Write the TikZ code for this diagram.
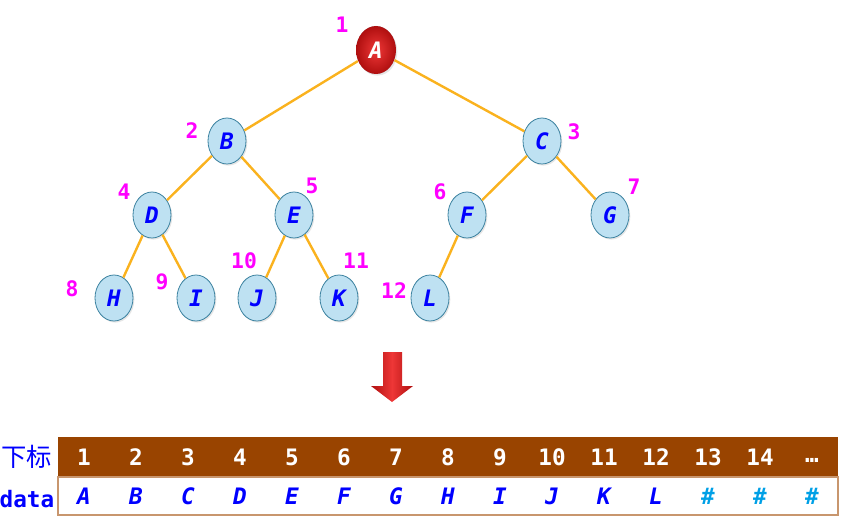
\documentclass[tikz,border=0pt]{standalone}
\usepackage{fontspec}
\setmonofont{DejaVu Sans Mono}
\newfontfamily\cjk{Noto Sans CJK SC}
\usetikzlibrary{shapes.geometric,shadows}
\definecolor{edgeorange}{RGB}{250,178,30}
\definecolor{nodeblue}{RGB}{190,225,242}
\definecolor{nodeline}{RGB}{60,130,160}
\definecolor{labmag}{RGB}{255,0,255}
\definecolor{letblue}{RGB}{0,0,255}
\definecolor{hashblue}{RGB}{0,160,230}
\definecolor{tabbrown}{RGB}{153,68,0}
\definecolor{tabline}{RGB}{200,150,110}
\definecolor{rootin}{RGB}{238,55,55}
\definecolor{rootout}{RGB}{175,15,15}

\begin{document}
\begin{tikzpicture}[
  x=0.75pt, y=-0.75pt,
  tnode/.style={ellipse, draw=nodeline, line width=0.6pt, fill=nodeblue,
               minimum width=28.5pt, minimum height=34.5pt, inner sep=0pt, text=letblue,
               font=\fontsize{17}{17}\selectfont\ttfamily\bfseries\itshape,
               drop shadow={opacity=0.2, shadow xshift=1pt, shadow yshift=-1.2pt}},
  rootnode/.style={tnode, draw=none, minimum width=30pt, minimum height=36pt,
               inner color=rootin, outer color=rootout, text=white},
  idx/.style={text=labmag, font=\fontsize{16}{16}\selectfont\ttfamily\bfseries},
  edge/.style={draw=edgeorange, line width=1.8pt},
  cell/.style={font=\fontsize{17}{17}\selectfont\ttfamily\bfseries}
]
\useasboundingbox (0,0) rectangle (842,527);

% Tree nodes
\node[rootnode] (A) at (376,50) {A};
\node[tnode] (B) at (227,141) {B};
\node[tnode] (C) at (542,141) {C};
\node[tnode] (D) at (152,215) {D};
\node[tnode] (E) at (294,215) {E};
\node[tnode] (F) at (467,215) {F};
\node[tnode] (G) at (610,215) {G};
\node[tnode] (H) at (114,298) {H};
\node[tnode] (I) at (196,298) {I};
\node[tnode] (J) at (257,298) {J};
\node[tnode] (K) at (339,298) {K};
\node[tnode] (L) at (430,298) {L};

% Edges
\draw[edge] (A) -- (B);
\draw[edge] (A) -- (C);
\draw[edge] (B) -- (D);
\draw[edge] (B) -- (E);
\draw[edge] (C) -- (F);
\draw[edge] (C) -- (G);
\draw[edge] (D) -- (H);
\draw[edge] (D) -- (I);
\draw[edge] (E) -- (J);
\draw[edge] (E) -- (K);
\draw[edge] (F) -- (L);

% Index labels
\node[idx] (n1) at (342,25) {1};
\node[idx] (n2) at (192,131) {2};
\node[idx] (n3) at (574,132) {3};
\node[idx] (n4) at (124,192) {4};
\node[idx] (n5) at (312,186) {5};
\node[idx] (n6) at (440,192) {6};
\node[idx] (n7) at (634,187) {7};
\node[idx] (n8) at (72,289) {8};
\node[idx] (n9) at (162,282) {9};
\node[idx] (n10) at (244,261) {10};
\node[idx] (n11) at (356,261) {11};
\node[idx] (n12) at (394,291) {12};

% Down arrow
\shade[left color=rootout, right color=rootout, middle color=rootin]
  (383,352) -- (402,352) -- (402,386) -- (413,386) -- (392,402)
  -- (371,386) -- (383,386) -- cycle;

% Table
\fill[tabbrown] (58,437) rectangle (838,477);
\draw[tabline, line width=1pt] (58,477) rectangle (838,515);
\node[cell, text=letblue, font=\fontsize{19}{19}\selectfont\cjk] (rowidx) at (27,457) {下标};
\node[cell, text=letblue] (rowdata) at (27,499) {data};
\foreach \i in {1,...,14}
  \node[cell, text=white] (i\i) at ({84+52*(\i-1)},457) {\i};
\node[cell, text=white] (i15) at (812,460) {…};
\foreach \c [count=\i] in {A,B,C,D,E,F,G,H,I,J,K,L}
  \node[cell, text=letblue, font=\fontsize{17}{17}\selectfont\ttfamily\bfseries\itshape]
    (d\i) at ({84+52*(\i-1)},496) {\c};
\foreach \i in {13,14,15}
  \node[cell, text=hashblue] (d\i) at ({84+52*(\i-1)},496) {\#};
\end{tikzpicture}
\end{document}
